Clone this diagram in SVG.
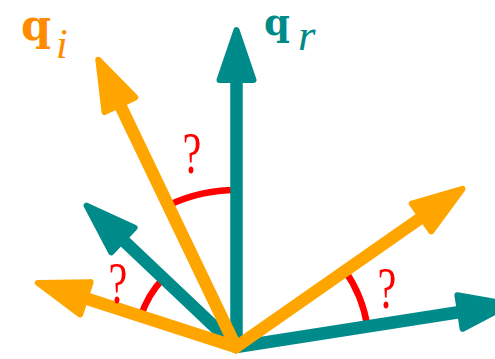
<svg xmlns="http://www.w3.org/2000/svg" width="495" height="359" viewBox="0 0 495 359">
<style>
.arc{fill:none;stroke:#FF0000;stroke-width:6.5}
.t{stroke:#008B8B;stroke-width:12.5;stroke-linecap:round;fill:none}
.o{stroke:#FFA500;stroke-width:12.5;stroke-linecap:round;fill:none}
.qm{font-family:"Liberation Serif",serif;font-size:50px;fill:#FF0000;text-anchor:middle}
.lb{font-family:"DejaVu Serif",serif;font-weight:bold}
.sub{font-family:"Liberation Serif",serif;font-style:italic}
</style>
<defs>
<marker id="ht" markerUnits="userSpaceOnUse" orient="auto" refX="0" refY="0" markerWidth="80" markerHeight="60" viewBox="-10 -30 80 60" overflow="visible">
<path d="M0,-17 L50,0 L0,17 Z" fill="#008B8B" stroke="#008B8B" stroke-width="6" stroke-linejoin="round"/>
</marker>
<marker id="ho" markerUnits="userSpaceOnUse" orient="auto" refX="0" refY="0" markerWidth="80" markerHeight="60" viewBox="-10 -30 80 60" overflow="visible">
<path d="M0,-17 L50,0 L0,17 Z" fill="#FFA500" stroke="#FFA500" stroke-width="6" stroke-linejoin="round"/>
</marker>
</defs>
<g id="angles">
<path class="arc" d="M236.5,190 A157,157 0 0 0 168.1,205.5"/>
<path class="arc" d="M162.7,279 A100,100 0 0 0 140.8,316.3"/>
<path class="arc" d="M345.1,270.9 A133,133 0 0 1 367.4,326.5"/>
</g>
<g id="connectors">
<line id="qr" class="t" x1="236.5" y1="347" x2="236.5" y2="80" marker-end="url(#ht)"/>
<line id="teal-left" class="t" x1="236" y1="347" x2="122.9" y2="240" marker-end="url(#ht)"/>
<line id="teal-right" class="t" x1="236" y1="347" x2="460" y2="312" marker-end="url(#ht)"/>
<line id="qi" class="o" x1="236" y1="347" x2="119.9" y2="104.8" marker-end="url(#ho)"/>
<line id="orange-left" class="o" x1="236" y1="347" x2="85.4" y2="298.3" marker-end="url(#ho)"/>
<line id="orange-right" class="o" x1="236" y1="347" x2="421.5" y2="217.5" marker-end="url(#ho)"/>
</g>
<g id="label-qi" fill="#FF8C00">
<text class="lb" x="21" y="40" font-size="43">q</text>
<text class="sub" x="56" y="58" font-size="42">i</text>
</g>
<g id="label-qr" fill="#008B8B">
<text class="lb" x="264" y="34.5" font-size="37">q</text>
<text class="sub" x="298" y="50" font-size="45">r</text>
</g>
<g id="question-marks">
<text class="qm" transform="translate(192,173) scale(0.85,1.2)">?</text>
<text class="qm" transform="translate(118,303) scale(0.85,1.2)">?</text>
<text class="qm" transform="translate(387,308) scale(0.85,1.2)">?</text>
</g>
</svg>
